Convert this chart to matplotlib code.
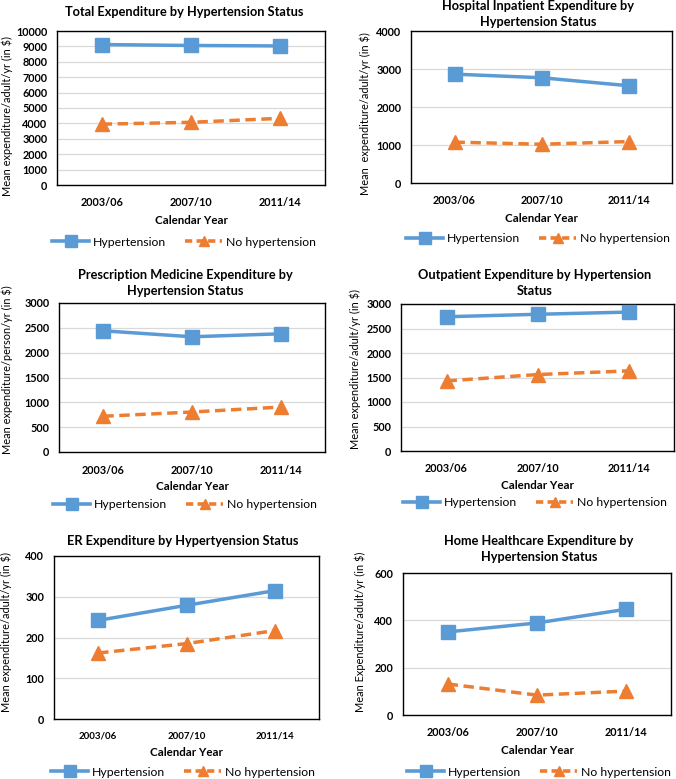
import matplotlib
matplotlib.use('Agg')
import matplotlib.pyplot as plt
from matplotlib.lines import Line2D

plt.rcParams['font.family'] = ['Lato', 'DejaVu Sans']

W, H = 676, 779

years = ['2003/06', '2007/10', '2011/14']

total_hyp = [9120, 9060, 9030]
total_no = [3950, 4070, 4330]
inpatient_hyp = [2865, 2770, 2560]
inpatient_no = [1075, 1020, 1090]
rx_hyp = [2440, 2320, 2380]
rx_no = [720, 805, 905]
outpt_hyp = [2740, 2790, 2835]
outpt_no = [1430, 1560, 1635]
er_hyp = [242, 279, 315]
er_no = [162, 185, 217]
home_hyp = [351, 389, 447]
home_no = [131, 84, 101]

BLUE = '#5B9BD5'
ORANGE = '#ED7D31'

# (title, ylabel, hyp, no, ymax, ystep, axes box px, title xy, ylabel xy, legend y)
panels = [
    ('Total Expenditure by Hypertension Status', 'Mean expenditure/adult/yr (in $)',
     total_hyp, total_no, 10000, 1000, (57, 31, 325, 185), (184, 12), (7, 116), 242),
    ('Hospital Inpatient Expenditure by\nHypertension Status', 'Mean  expenditure/adult/yr (in $)',
     inpatient_hyp, inpatient_no, 4000, 1000, (411, 31, 672, 183), (538, 14), (365, 114), 239),
    ('Prescription Medicine Expenditure by\nHypertension Status', 'Mean expenditure/person/yr (in $)',
     rx_hyp, rx_no, 3000, 500, (59, 303, 325, 452), (185, 283), (7, 370), 505),
    ('Outpatient Expenditure by Hypertension\nStatus', 'Mean expenditure/adult/yr (in $)',
     outpt_hyp, outpt_no, 3000, 500, (401, 304, 674, 451), (535, 283), (355, 369), 503),
    ('ER Expenditure by Hypertyension Status', 'Mean expenditure/adult/yr (in $)',
     er_hyp, er_no, 400, 100, (54, 556, 319, 719), (183, 541), (6, 632), 772),
    ('Home Healthcare Expenditure by\nHypertension Status', 'Mean Expenditure/adult/yr (in $)',
     home_hyp, home_no, 600, 200, (403, 573, 671, 715), (539, 549), (360, 632), 772),
]

fig = plt.figure(figsize=(W / 100, H / 100), dpi=100)


def fx(x):
    return x / W


def fy(y):
    return 1 - y / H


for i, (title, ylab, hyp, no, ymax, ystep, box, tpos, ypos, legy) in enumerate(panels):
    x0, y0, x1, y1 = box
    ax = fig.add_axes([fx(x0), fy(y1), (x1 - x0) / W, (y1 - y0) / H])
    xs = range(len(years))
    ax.plot(xs, hyp, color=BLUE, lw=2.5, marker='s', ms=10, zorder=3)
    ax.plot(xs, no, color=ORANGE, lw=2.5, ls=(0, (3, 1.6)), marker='^',
            ms=9.5, zorder=3)
    ax.set_xlim(-0.5, 2.5)
    ax.set_ylim(0, ymax)
    ax.set_yticks(range(0, ymax + 1, ystep))
    ax.set_xticks(list(xs))
    ax.set_xticklabels(years)
    ax.yaxis.grid(True, color='#D9D9D9', lw=0.9)
    ax.set_axisbelow(True)
    for sp in ax.spines.values():
        sp.set_color('black')
        sp.set_linewidth(1.0)
    xsize = 7.0 if i == 4 else 7.8
    ax.tick_params(axis='x', length=0, pad=9, labelsize=xsize)
    ax.tick_params(axis='y', length=0, pad=7, labelsize=7.8)
    for lab in ax.get_xticklabels() + ax.get_yticklabels():
        lab.set_fontweight('bold')

    fig.text(fx(tpos[0]), fy(tpos[1]), title, ha='center', va='center',
             fontsize=9.2, fontweight='bold', linespacing=1.45)
    fig.text(fx(ypos[0]), fy(ypos[1]), ylab, ha='center', va='center',
             rotation=90, fontsize=7.9)
    fig.text(fx((x0 + x1) / 2), fy(y1 + 35 if i != 4 else y1 + 33), 'Calendar Year',
             ha='center', va='center', fontsize=8.3, fontweight='bold')

    handles = [
        Line2D([], [], color=BLUE, lw=2.6, marker='s', ms=8),
        Line2D([], [], color=ORANGE, lw=2.6, ls=(0, (2, 1.2)), marker='^', ms=6.5),
    ]
    fig.legend(handles, ['Hypertension', 'No hypertension'], loc='center',
               bbox_to_anchor=(fx(tpos[0]), fy(legy)), ncol=2, frameon=False,
               fontsize=8.8, handlelength=3.0, columnspacing=1.6,
               handletextpad=0.3)

fig.savefig('out.png', dpi=100)
